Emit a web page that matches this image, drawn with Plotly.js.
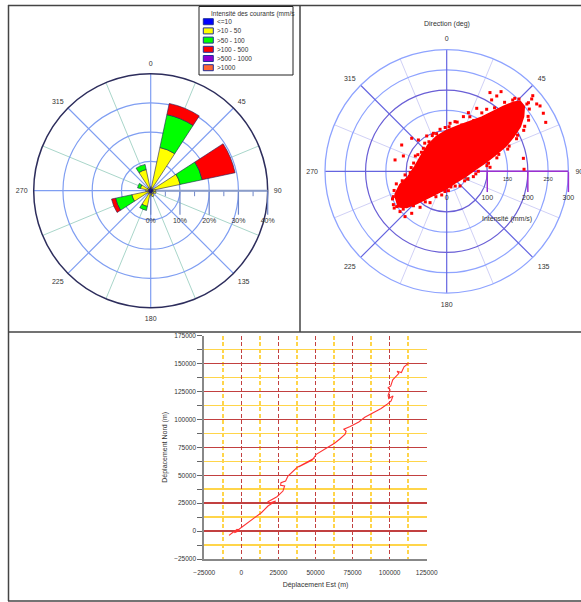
<!DOCTYPE html>
<html><head><meta charset="utf-8">
<script src="https://cdn.plot.ly/plotly-3.0.1.min.js"></script>
<style>html,body{margin:0;padding:0;background:#fff;}#chart{width:581px;height:602px;}</style>
</head><body><div id="chart"></div>
<script>
// ---------- Rose des courants (fréquence %, par secteur de direction) ----------
const roseDirections = [0,22.5,45,67.5,90,112.5,135,157.5,180,202.5,225,247.5,270,292.5,315,337.5];
const roseClasses = ['<=10','>10 - 50','>50 - 100','>100 - 500','>500 - 1000','>1000'];
const roseLe10     = [0.9,0.9,0.8,0.9,0.8,0.8,0.8,0.9,0.8,0.9,0.8,0.9,0.8,0.9,0.8,0.9];
const rose10to50   = [0.4,14.2,0.3,9.4,0.9,1.1,0.6,1.2,0.7,4.6,0.5,5.7,0.9,2.7,0.5,6.5];
const rose50to100  = [0,11.5,0,7.7,0,0,0,0,0,1.4,0,5.7,0,1.0,0,1.8];
const rose100to500 = [0,3.9,0,11.5,0,0,0,0,0,0,0,1.4,0,0,0,0];
const rose500to1000= [0,0,0,0,0,0,0,0,0,0,0,0,0,0,0,0];
const roseOver1000 = [0,0,0,0,0,0,0,0,0,0,0,0,0,0,0,0];
const roseColors = ['#0000ff','#ffff00','#00ff00','#ff0000','#8e00d0','#ff6633'];
const roseTicks = [0,10,20,30,40];
const roseTickText = ['0%','10%','20%','30%','40%'];
const compassTicks = [0,45,90,135,180,225,270,315];
const compassText = ['0','45','90','135','180','225','270','315'];

// ---------- Nuage intensité (mm/s) / direction (deg) ----------
const cloudCoreR     = [140.1,119.8,95.4,78.9,73.6,79.1,89.0,100.2,115.4,135.2,158.6,186.7,212.0,235.9,249.3,248.5,232.1,211.7,185.2,156.1,125.7,96.9,70.0,47.1,34.6,41.9,59.6,82.9,108.2,132.6,147.6,140.1];
const cloudCoreTheta = [245.4,253.7,262.1,278.4,303.2,325.1,343.9,0,14.4,25.2,33.0,38.0,41.2,44.1,46.5,50.1,54.5,58.7,62.5,67.1,71.3,77.2,86.0,106.2,143.7,180,204.5,216.5,223.2,228.0,233.8,245.4];
const outlierR     = [221.4,222.9,207.9,172.0,154.1,140.9,275.1,277.1,263.0,277.9,272.3,280.9,282.4,191.7,190.7,118.6,104.8,99.3,100.1,118.6,128.5,130.4,113.3,145.6,152.0,151.8,134.8,150.9,110.4,87.5,239.5,237.7,224.1,163.2,107.3,67.0,48.9,59.6,104.1,80.8,124.1,181.9,
  150,138,128,112,103,90,88,84,82,78,86,88,85,96,95,108,110,124,120,146,142,168,165,196,192,222,218,246,252,258,255,242,238,222,215,196,190,166,160,135,128,105,100,78,72,55,50,42,40,50,48,68,66,92,90,118,115,142,140,158,155];
const outlierTheta = [28.8,33.6,32.2,25.5,20.3,17.0,49.6,53.2,50.0,59.0,63.7,55.0,48.7,80.4,88.5,4.0,351.0,340.7,330.5,313.3,300.3,282.4,289.5,244.6,229.2,222.6,219.8,234.8,216.5,208.0,42.8,34.3,50.4,65.0,84.7,101.3,137.7,191.9,317.9,314.6,9.5,32.8,
  243,250,256,258,265,268,276,284,300,307,296,322,329,345,338,358,3,12,18,23,28,31,36,37,40,40,43,43,45,50,53,56,58,60,62,63,65,68,70,72,75,79,82,90,95,110,118,150,165,185,175,203,210,215,220,224,227,229,232,235,238];
const scatterTicks = [0,100,200,300];
const scatterMinorTicks = [50,150,250];

// ---------- Trajectoire (déplacement cumulé, m) ----------
const trackEast  = [-5610,-8303,-6508,-2917,-1122,-4712,-3366,673,5610,13464,17952,23113,18625,17952,24010,28050,29172,26479,26704,29845,31416,34333,37699,46002,49368,40392,38821,47797,50490,57222,62832,66198,70013,70686,69115,73379,79213,83252,88189,94248,98063,100980,102326,99409,98960,100306,98960,100755,102101,104794,106140,105018,107935,109730,112873];
const trackNorth = [-897,-3887,-2392,1495,598,-1495,0,3887,8671,16445,22425,26910,24817,26312,30797,35880,40365,40963,43355,44850,49335,52923,57109,62491,65481,58903,57707,63687,68770,74152,78637,82225,86710,89401,91195,93587,97773,101959,105547,109733,113321,116610,121095,118703,121693,126477,128271,130065,135447,139035,141128,143221,142025,147108,150397];

// ---------- helpers (pixel -> paper) ----------
const W = 581, H = 602;
const PX = p => p / W;
const PY = p => 1 - p / H;
const FONT = 'Liberation Sans, Arial, sans-serif';
const offsets = roseDirections.filter((d, i) => i % 2 === 1);

const roseSeries = [roseLe10, rose10to50, rose50to100, rose100to500, rose500to1000, roseOver1000];
const traces = [];
// base layers (grid helpers) need a trace to be drawn
['polar', 'polar3'].forEach(sp => traces.push({type: 'scatterpolar', subplot: sp, r: [0], theta: [0],
  mode: 'markers', marker: {opacity: 0}, showlegend: false, hoverinfo: 'skip'}));
roseSeries.forEach((vals, k) => {
  traces.push({
    type: 'barpolar', subplot: 'polar2', name: roseClasses[k],
    r: vals, theta: roseDirections, width: 21,
    marker: {color: roseColors[k], line: {color: '#20205a', width: 0.6}},
    showlegend: false, hoverinfo: 'skip'
  });
});
traces.push({
  type: 'scatterpolar', subplot: 'polar4', r: cloudCoreR, theta: cloudCoreTheta,
  mode: 'lines', fill: 'toself', fillcolor: '#ff0000', line: {color: '#ff0000', width: 2},
  showlegend: false, hoverinfo: 'skip'
});
traces.push({
  type: 'scatterpolar', subplot: 'polar4', r: outlierR, theta: outlierTheta,
  mode: 'markers', marker: {color: '#ff0000', size: 3, symbol: 'square'},
  showlegend: false, hoverinfo: 'skip'
});
traces.push({
  type: 'scatter', x: trackEast, y: trackNorth, xaxis: 'x', yaxis: 'y', mode: 'lines',
  line: {color: '#ff3333', width: 1.1}, showlegend: false, hoverinfo: 'skip'
});

const roseDomain = {x: [PX(33.7), PX(267.7)], y: [PY(307.7), PY(73.7)]};
const scatDomain = {x: [PX(325), PX(568.4)], y: [PY(293), PY(49.6)]};

const shapes = [];
const line = (x0, y0, x1, y1) => shapes.push({type: 'line', xref: 'paper', yref: 'paper',
  x0: PX(x0), y0: PY(y0), x1: PX(x1), y1: PY(y1), line: {color: '#444', width: 1.5}});
line(8, 5.5, 581, 5.5);
line(8.5, 5, 8.5, 601);
line(8, 601, 581, 601);
line(300, 5, 300, 332);
line(8, 332, 581, 332);
// legend box
shapes.push({type: 'rect', xref: 'paper', yref: 'paper', x0: PX(199), x1: PX(293), y0: PY(75), y1: PY(6.5),
  line: {color: '#222', width: 1}, fillcolor: 'white'});
const annotations = [];
annotations.push({xref: 'paper', yref: 'paper', x: PX(209), y: PY(13.7), xanchor: 'left', yanchor: 'middle',
  text: 'Intensité des courants (mm/s', showarrow: false, font: {size: 6.5, color: '#333', family: FONT}});
roseClasses.forEach((c, i) => {
  const yc = 21.7 + i * 9.2;
  shapes.push({type: 'rect', xref: 'paper', yref: 'paper', x0: PX(203.3), x1: PX(213.3), y0: PY(yc + 3), y1: PY(yc - 3),
    fillcolor: roseColors[i], line: {color: '#1f2f9a', width: 1}});
  annotations.push({xref: 'paper', yref: 'paper', x: PX(215), y: PY(yc), xanchor: 'left', yanchor: 'middle',
    text: c, showarrow: false, font: {size: 6.5, color: '#333', family: FONT}});
});
annotations.push({xref: 'paper', yref: 'paper', x: PX(446.7), y: PY(24.3), xanchor: 'center', yanchor: 'middle',
  text: 'Direction (deg)', showarrow: false, font: {size: 7, color: '#333', family: FONT}});
annotations.push({xref: 'paper', yref: 'paper', x: PX(506.7), y: PY(219), xanchor: 'center', yanchor: 'middle',
  text: 'Intensité (mm/s)', showarrow: false, font: {size: 7, color: '#333', family: FONT}});

const layout = {
  width: W, height: H, margin: {l: 0, r: 0, t: 0, b: 0},
  paper_bgcolor: 'white', plot_bgcolor: 'white',
  font: {family: FONT, size: 7, color: '#333'},
  showlegend: false,
  polar: {
    domain: roseDomain, bgcolor: 'white',
    angularaxis: {rotation: 90, direction: 'clockwise', tickmode: 'array', tickvals: offsets,
      showticklabels: false, ticks: '', gridcolor: '#a9d6ca', gridwidth: 1, showline: false},
    radialaxis: {range: [0, 40], angle: 0, tickmode: 'array', tickvals: [5, 15, 25, 35], ticks: 'outside',
      ticklen: 5, tickcolor: '#6f87c9', showticklabels: false, showgrid: false, showline: false}
  },
  polar2: {
    domain: roseDomain, bgcolor: 'rgba(0,0,0,0)', barmode: 'stack',
    angularaxis: {rotation: 90, direction: 'clockwise', tickmode: 'array', tickvals: compassTicks, ticktext: compassText,
      gridcolor: '#7f9ef2', gridwidth: 1.2, showline: true, linecolor: '#2d2d5c', linewidth: 1.5,
      ticks: 'outside', ticklen: 4, tickcolor: 'rgba(0,0,0,0)', tickfont: {size: 7}, layer: 'below traces'},
    radialaxis: {range: [0, 40], angle: 0, tickmode: 'array', tickvals: roseTicks, ticktext: roseTickText,
      ticks: 'outside', ticklen: 23, tickcolor: '#6f87c9', tickwidth: 1.2, showline: true,
      linecolor: '#8b9dc8', linewidth: 2, gridcolor: '#7f9ef2', gridwidth: 1.2, tickfont: {size: 7},
      tickangle: 0, layer: 'below traces'}
  },
  polar3: {
    domain: scatDomain, bgcolor: 'white',
    angularaxis: {rotation: 90, direction: 'clockwise', tickmode: 'array', tickvals: offsets,
      showticklabels: false, ticks: '', gridcolor: '#d0d0f6', showline: false},
    radialaxis: {range: [0, 300], angle: 0, tickmode: 'array', tickvals: scatterMinorTicks, ticks: 'outside',
      ticklen: 3, tickcolor: 'rgba(0,0,0,0)', tickfont: {size: 5.5}, gridcolor: '#8ea3ff', gridwidth: 1.2,
      showline: false, tickangle: 0}
  },
  polar4: {
    domain: scatDomain, bgcolor: 'rgba(0,0,0,0)',
    angularaxis: {rotation: 90, direction: 'clockwise', tickmode: 'array', tickvals: compassTicks, ticktext: compassText,
      gridcolor: '#6464e0', gridwidth: 1.2, showline: true, linecolor: '#8ea3ff', linewidth: 1.3,
      ticks: 'outside', ticklen: 5, tickcolor: 'rgba(0,0,0,0)', tickfont: {size: 7}, layer: 'below traces'},
    radialaxis: {range: [0, 300], angle: 0, tickmode: 'array', tickvals: scatterTicks, ticks: 'outside',
      ticklen: 20, tickcolor: '#9b30d0', tickwidth: 1.5, showline: true, linecolor: '#9b30d0', linewidth: 1.5,
      gridcolor: '#6a5fd6', gridwidth: 1.2, tickfont: {size: 7}, tickangle: 0, layer: 'below traces'}
  },
  xaxis: {
    domain: [PX(204.3), PX(426.7)], anchor: 'y', range: [-25000, 125000],
    tickmode: 'linear', tick0: 0, dtick: 25000, tickformat: 'd',
    showgrid: true, gridcolor: '#c24040', griddash: '4px,2.5px', gridwidth: 1.5, zeroline: false,
    showline: true, linecolor: '#888', linewidth: 2, ticks: 'outside', ticklen: 6, tickcolor: 'rgba(0,0,0,0)',
    tickfont: {size: 6.5},
    minor: {dtick: 12500, showgrid: true, gridcolor: '#ffd54a', griddash: '4px,2.5px', gridwidth: 1.5},
    title: {text: 'Déplacement Est (m)', font: {size: 7}, standoff: 7}
  },
  yaxis: {
    domain: [PY(559), PY(335.7)], anchor: 'x', range: [-25000, 175000],
    tickmode: 'linear', tick0: 0, dtick: 25000, tickformat: 'd',
    showgrid: true, gridcolor: '#c24040', gridwidth: 1.5, zeroline: false,
    showline: true, linecolor: '#888', linewidth: 2, ticks: 'outside', ticklen: 5, tickcolor: '#666',
    tickfont: {size: 6.5},
    minor: {dtick: 12500, ticks: 'outside', ticklen: 5, tickcolor: '#666', showgrid: true, gridcolor: '#ffd54a', gridwidth: 1.5},
    title: {text: 'Déplacement Nord (m)', font: {size: 7}, standoff: 6}
  },
  shapes: shapes,
  annotations: annotations
};

Plotly.newPlot('chart', traces, layout, {staticPlot: true, displayModeBar: false});
</script></body></html>
